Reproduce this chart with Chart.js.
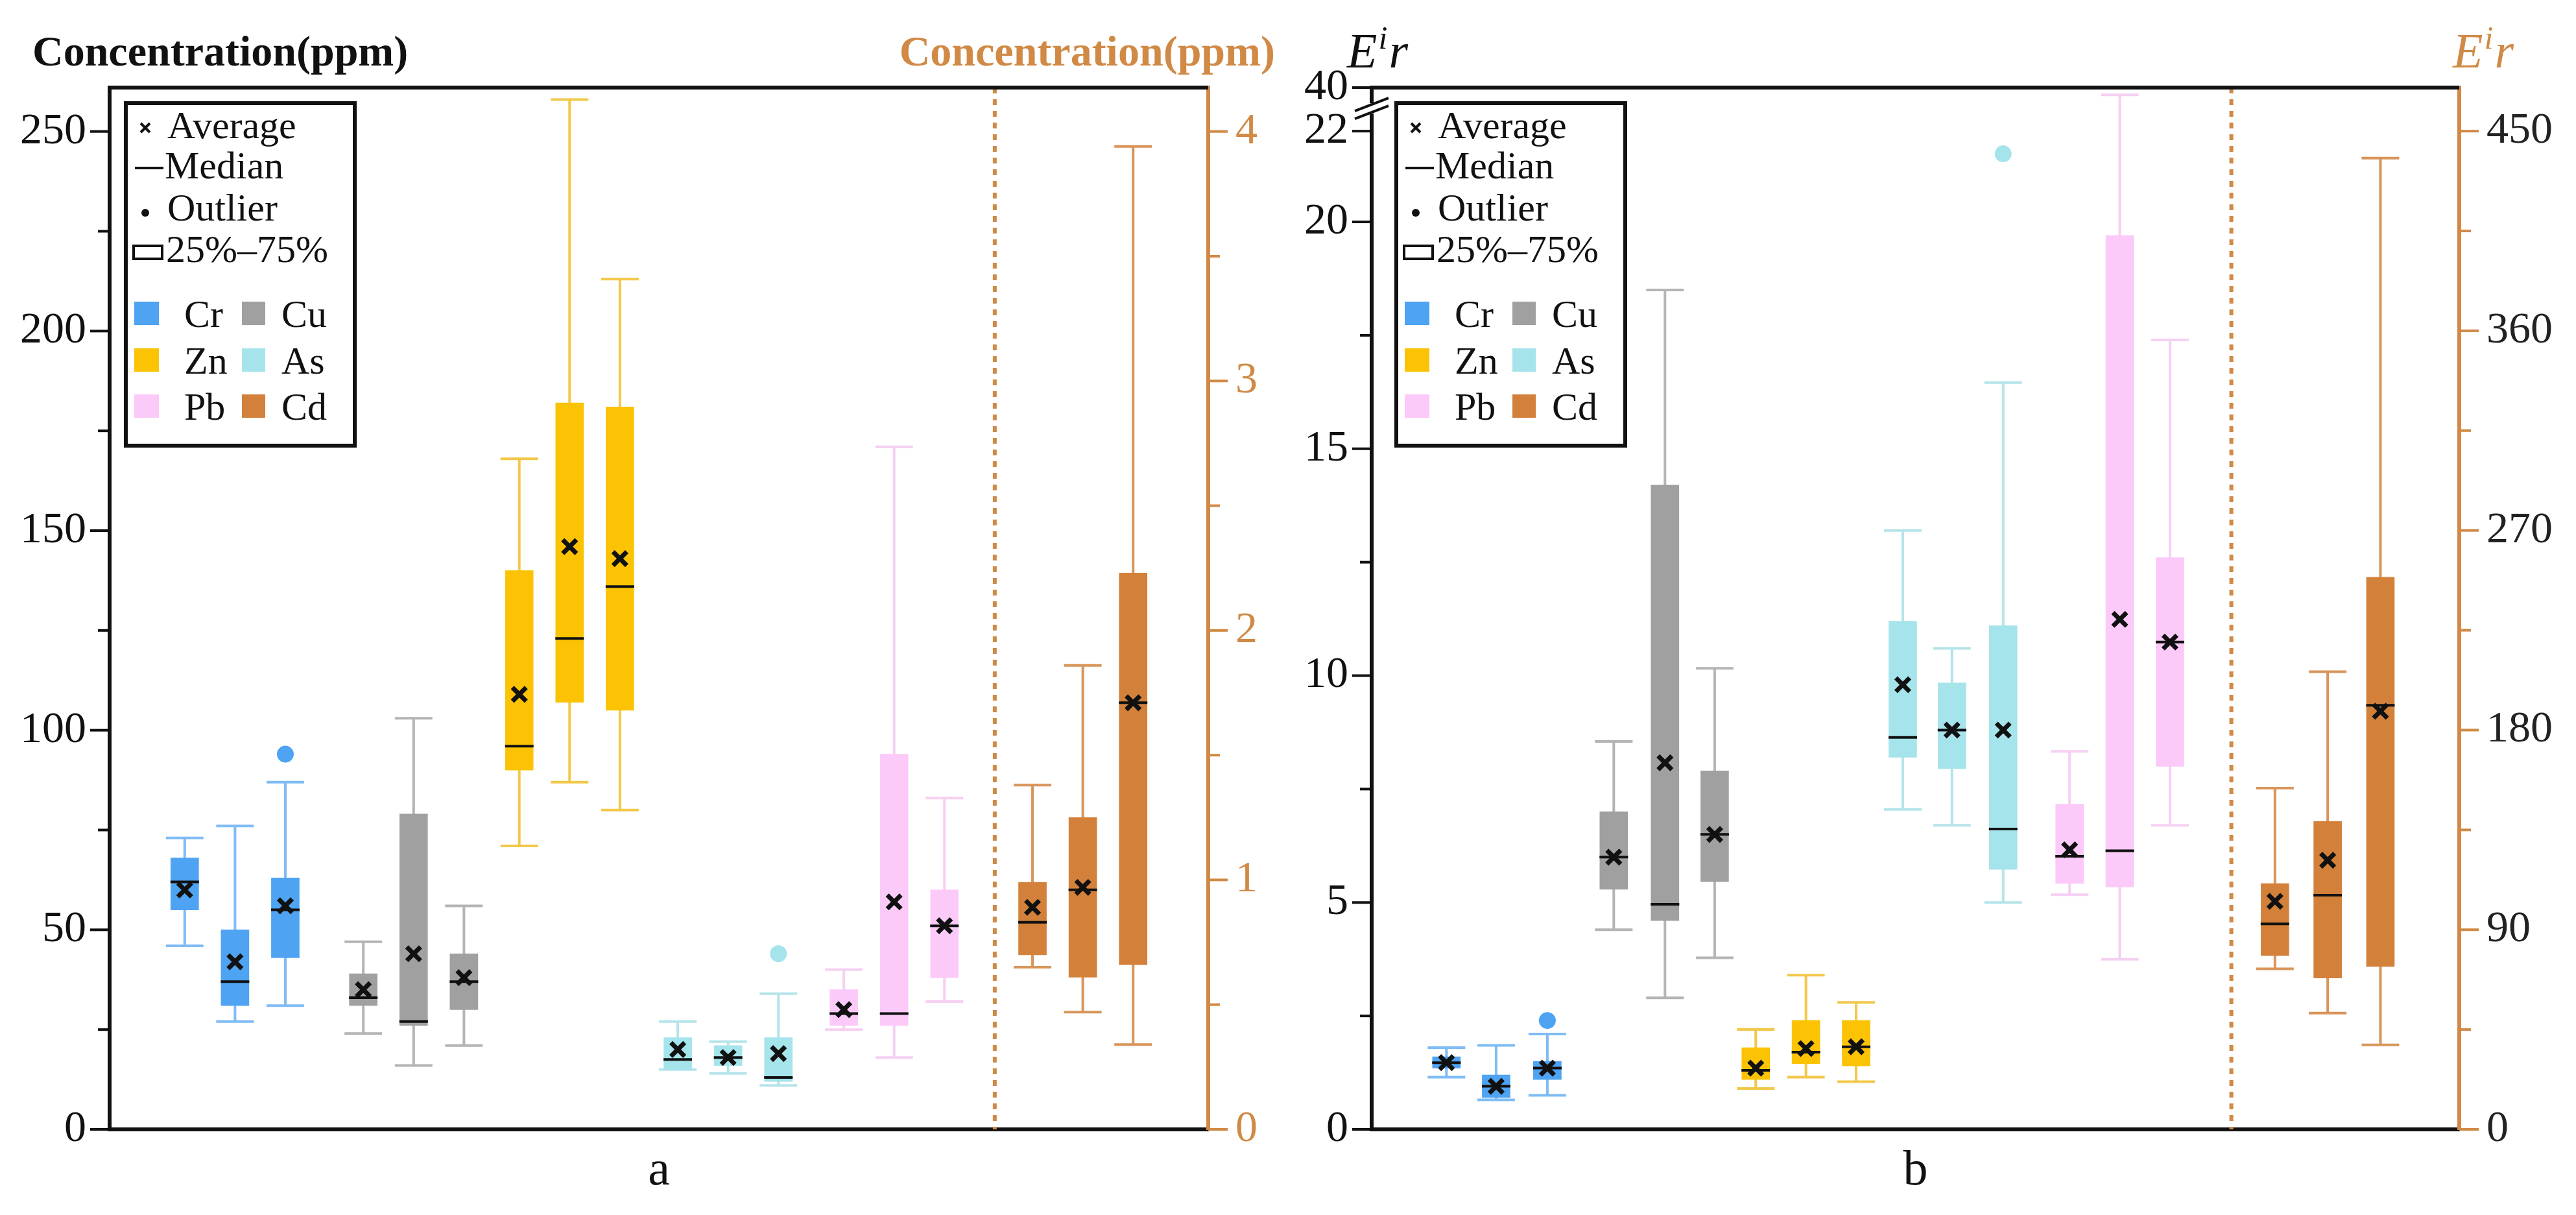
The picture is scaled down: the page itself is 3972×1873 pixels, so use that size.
<!DOCTYPE html>
<html>
<head>
<meta charset="utf-8">
<script src="https://cdn.jsdelivr.net/npm/chart.js@4.4.1/dist/chart.umd.min.js"></script>
<style>
  html, body { margin: 0; padding: 0; background: #fff; }
  .panel { position: absolute; top: 0; width: 1986px; height: 1873px; }
</style>
</head>
<body>
<div class="panel" style="left:0"><canvas id="chartA"></canvas></div>
<div class="panel" style="left:1986px"><canvas id="chartB"></canvas></div>
<script>
// element of each box (3 boxes per element)
const elements = ['Cr', 'Cr', 'Cr', 'Cu', 'Cu', 'Cu', 'Zn', 'Zn', 'Zn', 'As', 'As', 'As', 'Pb', 'Pb', 'Pb', 'Cd', 'Cd', 'Cd'];
const legendElements = [['Cr', 'Cu'], ['Zn', 'As'], ['Pb', 'Cd']];
const colors = { Cr: '#4ea3f2', Cu: '#a0a0a0', Zn: '#fbc304', As: '#a6e4ec', Pb: '#fbcaf9', Cd: '#d3813a' };
const whiskerColors = { Cr: '#7fbcf5', Cu: '#b4b4b4', Zn: '#f2c84a', As: '#b5e4ea', Pb: '#f5d0f2', Cd: '#d8955a' };
const axisOrange = '#d08a45';

// panel a : concentration (ppm), Cd on right axis
const aPos = [0.5, 1.5, 2.5, 4.05, 5.05, 6.05, 7.15, 8.15, 9.15, 10.3, 11.3, 12.3, 13.6, 14.6, 15.6, 17.35, 18.35, 19.35];
const aMin = [46, 27, 31, 24, 16, 21, 71, 87, 80, 15, 14, 11, 25, 18, 32, 0.65, 0.47, 0.34];
const aQ1 = [55, 31, 43, 31, 26, 30, 90, 107, 105, 15, 16, 12, 26, 26, 38, 0.70, 0.61, 0.66];
const aMed = [62, 37, 55, 33, 27, 37, 96, 123, 136, 17.5, 18, 13, 29, 29, 51, 0.83, 0.96, 1.71];
const aQ3 = [68, 50, 63, 39, 79, 44, 140, 182, 181, 23, 21, 23, 35, 94, 60, 0.99, 1.25, 2.23];
const aMax = [73, 76, 87, 47, 103, 56, 168, 258, 213, 27, 22, 34, 40, 171, 83, 1.38, 1.86, 3.94];
const aMean = [60, 42, 56, 35, 44, 38, 109, 146, 143, 20, 18, 19, 30, 57, 51, 0.89, 0.97, 1.71];
const aOutliers = [[2, 94], [11, 44]];
const aLeftTicks = [0, 25, 50, 75, 100, 125, 150, 175, 200, 225, 250];
const aLeftLabels = ['0', '', '50', '', '100', '', '150', '', '200', '', '250'];
const aRightTicks = [0, 0.5, 1, 1.5, 2, 2.5, 3, 3.5, 4];
const aRightLabels = ['0', '', '1', '', '2', '', '3', '', '4'];

// panel b : potential ecological risk Eir, Cd on right axis
const bPos = [0.5, 1.48, 2.49, 3.8, 4.81, 5.79, 6.6, 7.59, 8.58, 9.5, 10.47, 11.48, 12.79, 13.78, 14.77, 16.84, 17.88, 18.92];
const bMin = [1.15, 0.65, 0.75, 4.4, 2.9, 3.78, 0.9, 1.15, 1.05, 7.05, 6.7, 5.0, 5.17, 3.75, 6.7, 72.4, 52.4, 38.1];
const bQ1 = [1.35, 0.7, 1.1, 5.29, 4.6, 5.46, 1.1, 1.45, 1.4, 8.2, 7.95, 5.73, 5.42, 5.34, 8.0, 78.3, 68.2, 73.4];
const bMed = [1.47, 0.95, 1.35, 6.0, 4.96, 6.5, 1.3, 1.7, 1.82, 8.64, 8.8, 6.62, 6.02, 6.14, 10.74, 92.6, 105.6, 191.2];
const bQ3 = [1.6, 1.2, 1.5, 7.0, 14.2, 7.9, 1.8, 2.4, 2.4, 11.2, 9.84, 11.1, 7.17, 19.7, 12.6, 110.8, 138.8, 248.9];
const bMax = [1.8, 1.85, 2.1, 8.55, 18.5, 10.16, 2.2, 3.4, 2.8, 13.2, 10.6, 16.46, 8.33, 22.8, 17.4, 153.8, 206.3, 437.8];
const bMean = [1.47, 0.95, 1.35, 6.0, 8.08, 6.5, 1.35, 1.78, 1.82, 9.8, 8.8, 8.8, 6.16, 11.24, 10.74, 102.8, 121.3, 188.5];
const bOutliers = [[2, 2.4], [11, 21.5]];
const bLeftTicks = [0, 2.5, 5, 7.5, 10, 12.5, 15, 17.5, 20, 22, 22.96];
const bLeftLabels = ['0', '', '5', '', '10', '', '15', '', '20', '22', '40'];
const bRightTicks = [0, 45, 90, 135, 180, 225, 270, 315, 360, 405, 450];
const bRightLabels = ['0', '', '90', '', '180', '', '270', '', '360', '', '450'];

const serif = '"Liberation Serif", "Times New Roman", "DejaVu Serif", serif';

function axisFor(i) { return elements[i] === 'Cd' ? 'y2' : 'y'; }

function buildDatasets(pos, q1, q3, mean, outliers) {
  const sets = [];
  elements.forEach((el, i) => {
    sets.push({
      type: 'bar', data: [{ x: pos[i], y: [q1[i], q3[i]] }], yAxisID: axisFor(i),
      backgroundColor: colors[el], barThickness: 43, grouped: false, order: 2
    });
  });
  ['y', 'y2'].forEach(ax => {
    sets.push({
      type: 'scatter', yAxisID: ax, order: 0,
      data: mean.map((v, i) => ({ x: pos[i], y: v, ax: axisFor(i) })).filter(p => p.ax === ax),
      pointStyle: 'crossRot', radius: 15, borderWidth: 7, borderColor: '#111', backgroundColor: '#111'
    });
  });
  sets.push({
    type: 'scatter', yAxisID: 'y', order: 1,
    data: outliers.map(o => ({ x: pos[o[0]], y: o[1] })),
    pointStyle: 'circle', radius: 13, borderWidth: 0,
    backgroundColor: outliers.map(o => colors[elements[o[0]]])
  });
  return sets;
}

const boxPlugin = {
  id: 'boxParts',
  beforeDatasetsDraw(chart) {
    const o = chart.options.plugins.boxParts;
    const c = chart.ctx, xs = chart.scales.x;
    c.save();
    o.pos.forEach((p, i) => {
      const ys = chart.scales[axisFor(i)];
      const x = xs.getPixelForValue(p);
      c.strokeStyle = whiskerColors[elements[i]];
      c.lineWidth = 4;
      c.beginPath();
      c.moveTo(x, ys.getPixelForValue(o.max[i])); c.lineTo(x, ys.getPixelForValue(o.min[i]));
      [o.max[i], o.min[i]].forEach(v => {
        const y = ys.getPixelForValue(v);
        c.moveTo(x - 29, y); c.lineTo(x + 29, y);
      });
      c.stroke();
    });
    c.restore();
  },
  afterDatasetsDraw(chart) {
    const o = chart.options.plugins.boxParts;
    const c = chart.ctx, xs = chart.scales.x, a = chart.chartArea;
    c.save();
    // medians
    c.strokeStyle = '#111'; c.lineWidth = 4;
    o.pos.forEach((p, i) => {
      const y = chart.scales[axisFor(i)].getPixelForValue(o.med[i]);
      const x = xs.getPixelForValue(p);
      c.beginPath(); c.moveTo(x - 22, y); c.lineTo(x + 22, y); c.stroke();
    });
    // divider
    const dx = xs.getPixelForValue(o.divider);
    c.strokeStyle = axisOrange; c.lineWidth = 6; c.setLineDash([9, 9]);
    c.beginPath(); c.moveTo(dx, a.top); c.lineTo(dx, a.bottom); c.stroke();
    c.setLineDash([]);
    c.restore();
  },
  afterDraw(chart) {
    const o = chart.options.plugins.boxParts;
    const c = chart.ctx, a = chart.chartArea;
    c.save();
    // frame top
    c.strokeStyle = '#111'; c.lineWidth = 6;
    c.beginPath(); c.moveTo(a.left - 3, a.top); c.lineTo(a.right, a.top); c.stroke();
    // tick marks
    [['y', o.leftTicks, -1, '#111'], ['y2', o.rightTicks, 1, axisOrange]].forEach(([id, ticks, dir, col]) => {
      const s = chart.scales[id];
      const x0 = id === 'y' ? a.left : a.right;
      c.strokeStyle = col; c.lineWidth = 4;
      ticks.forEach((t, k) => {
        const y = s.getPixelForValue(t);
        const len = (id === 'y' ? o.leftLabels[k] : o.rightLabels[k]) ? 30 : 18;
        c.beginPath(); c.moveTo(x0, y); c.lineTo(x0 + dir * len, y); c.stroke();
      });
    });
    // axis break
    if (o.axisBreak) {
      const y = chart.scales.y.getPixelForValue(22.5);
      c.fillStyle = '#fff'; c.fillRect(a.left - 8, y - 8, 16, 16);
      c.strokeStyle = '#111'; c.lineWidth = 4;
      [-6, 6].forEach(d => {
        c.beginPath(); c.moveTo(a.left - 26, y + d + 10); c.lineTo(a.left + 26, y + d - 10); c.stroke();
      });
    }
    // titles
    c.textBaseline = 'middle';
    if (o.eir) {
      const drawEir = (x, col) => {
        c.font = 'italic 76px ' + serif;
        c.fillStyle = col; c.textAlign = 'left';
        c.fillText('E', x, 84);
        const w = c.measureText('E').width;
        c.font = 'italic 50px ' + serif; c.fillText('i', x + w + 2, 62);
        c.font = 'italic 76px ' + serif; c.fillText('r', x + w + 18, 84);
      };
      drawEir(a.left - 38, '#111');
      drawEir(a.right - 10, axisOrange);
    } else {
      c.font = 'bold 66px ' + serif;
      c.fillStyle = '#111'; c.textAlign = 'left';
      c.fillText('Concentration(ppm)', 50, 84);
      c.fillStyle = axisOrange; c.textAlign = 'right';
      c.fillText('Concentration(ppm)', chart.width - 20, 84);
    }
    c.font = '76px ' + serif; c.fillStyle = '#111'; c.textAlign = 'center';
    c.fillText(o.letter, (a.left + a.right) / 2, 1806);
    // legend
    const lx = a.left + o.legendDx, ly = a.top + 24;
    c.lineWidth = 6; c.strokeStyle = '#111';
    c.strokeRect(lx, ly, 353, 528);
    c.font = '60px ' + serif; c.textAlign = 'left'; c.fillStyle = '#111';
    const rows = [38, 100, 165, 229];
    c.fillText('Average', lx + 64, ly + rows[0]);
    c.fillText('Median', lx + 60, ly + rows[1]);
    c.fillText('Outlier', lx + 64, ly + rows[2]);
    c.fillText('25%\u201375%', lx + 62, ly + rows[3]);
    c.lineWidth = 4;
    const mx = lx + 30;
    c.beginPath();
    c.moveTo(mx - 7, ly + rows[0] - 7); c.lineTo(mx + 7, ly + rows[0] + 7);
    c.moveTo(mx + 7, ly + rows[0] - 7); c.lineTo(mx - 7, ly + rows[0] + 7);
    c.moveTo(mx - 16, ly + rows[1]); c.lineTo(mx + 28, ly + rows[1]);
    c.stroke();
    c.beginPath(); c.arc(mx, ly + rows[2] + 4, 6, 0, Math.PI * 2); c.fill();
    c.strokeRect(lx + 12, ly + rows[3] - 9, 44, 20);
    [325, 397, 468].forEach((ry, r) => {
      const [e1, e2] = legendElements[r];
      c.fillStyle = colors[e1]; c.fillRect(lx + 13, ly + ry - 19, 38, 36);
      c.fillStyle = colors[e2]; c.fillRect(lx + 179, ly + ry - 19, 36, 36);
      c.fillStyle = '#111';
      c.fillText(e1, lx + 90, ly + ry + 4);
      c.fillText(e2, lx + 240, ly + ry + 4);
    });
    c.restore();
  }
};

function makeChart(id, cfg) {
  const fitWidth = w => function (scale) { scale.width = w; };
  return new Chart(document.getElementById(id), {
    data: { datasets: buildDatasets(cfg.pos, cfg.q1, cfg.q3, cfg.mean, cfg.outliers) },
    options: {
      responsive: true, maintainAspectRatio: false, animation: false,
      layout: { padding: { top: 135, left: 0, right: 0, bottom: 0 } },
      plugins: {
        legend: { display: false }, tooltip: { enabled: false },
        boxParts: {
          pos: cfg.pos, min: cfg.min, med: cfg.med, max: cfg.max, divider: cfg.divider,
          leftTicks: cfg.leftTicks, leftLabels: cfg.leftLabels,
          rightTicks: cfg.rightTicks, rightLabels: cfg.rightLabels,
          axisBreak: cfg.axisBreak, eir: cfg.eir, letter: cfg.letter, legendDx: cfg.legendDx
        }
      },
      scales: {
        x: {
          type: 'linear', min: 0, max: cfg.xMax,
          grid: { display: false, drawTicks: false },
          border: { display: true, color: '#111', width: 6 },
          ticks: { display: false },
          afterFit(scale) { scale.height = 132; }
        },
        y: {
          type: 'linear', position: 'left', min: 0, max: cfg.yMax,
          grid: { display: false, drawTicks: false },
          border: { display: true, color: '#111', width: 6 },
          afterBuildTicks(scale) { scale.ticks = cfg.leftTicks.map(v => ({ value: v })); },
          ticks: {
            padding: 36, color: '#111', font: { family: serif, size: 68 },
            autoSkip: false,
            callback: (v, k) => cfg.leftLabels[k]
          },
          afterFit: fitWidth(cfg.leftW)
        },
        y2: {
          type: 'linear', position: 'right', min: 0, max: cfg.y2Max,
          grid: { display: false, drawTicks: false },
          border: { display: true, color: axisOrange, width: 6 },
          afterBuildTicks(scale) { scale.ticks = cfg.rightTicks.map(v => ({ value: v })); },
          ticks: {
            padding: 42, color: cfg.rightLabelColor, font: { family: serif, size: 68 },
            autoSkip: false,
            callback: (v, k) => cfg.rightLabels[k]
          },
          afterFit: fitWidth(cfg.rightW)
        }
      }
    },
    plugins: [boxPlugin]
  });
}

makeChart('chartA', {
  pos: aPos, min: aMin, q1: aQ1, med: aMed, q3: aQ3, max: aMax, mean: aMean, outliers: aOutliers,
  leftTicks: aLeftTicks, leftLabels: aLeftLabels, rightTicks: aRightTicks, rightLabels: aRightLabels,
  xMax: 19.85, divider: 16.6, yMax: 261, y2Max: 261 * 4 / 250, leftW: 169, rightW: 123,
  rightLabelColor: axisOrange, axisBreak: false, eir: false, letter: 'a', legendDx: 25
});
makeChart('chartB', {
  pos: bPos, min: bMin, q1: bQ1, med: bMed, q3: bQ3, max: bMax, mean: bMean, outliers: bOutliers,
  leftTicks: bLeftTicks, leftLabels: bLeftLabels, rightTicks: bRightTicks, rightLabels: bRightLabels,
  xMax: 19.5, divider: 15.98, yMax: 22.96, y2Max: 22.96 * 450 / 22, leftW: 129, rightW: 180,
  rightLabelColor: '#222', axisBreak: true, eir: true, letter: 'b', legendDx: 38
});
</script>
</body>
</html>
